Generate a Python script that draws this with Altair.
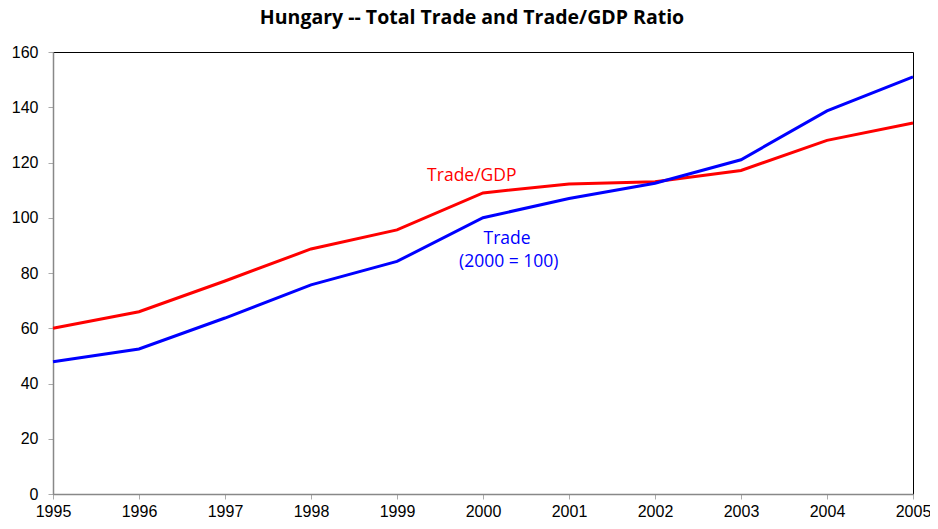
import altair as alt
import pandas as pd

years = [1995, 1996, 1997, 1998, 1999, 2000, 2001, 2002, 2003, 2004, 2005]
trade_gdp = [60.0, 66.0, 77.1, 88.7, 95.6, 109.0, 112.2, 113.0, 117.1, 128.0, 134.3]
trade = [47.9, 52.5, 63.7, 75.7, 84.2, 100.0, 107.0, 112.5, 121.0, 138.7, 151.0]

labels = ["Trade/GDP", "Trade", "(2000 = 100)"]
label_year = [1999.87, 2000.28, 2000.3]
label_value = [113.3, 90.5, 82.2]
label_color = ["#FF0000", "#0000FF", "#0000FF"]

series_names = ["Trade/GDP", "Trade"]
series_colors = ["#FF0000", "#0000FF"]

df = pd.DataFrame({
    "year": years * 2,
    "value": trade_gdp + trade,
    "series": ["Trade/GDP"] * len(years) + ["Trade"] * len(years),
})
lab = pd.DataFrame({"text": labels, "year": label_year, "value": label_value, "color": label_color})

x = alt.X("year:Q", scale=alt.Scale(domain=[1995, 2005], nice=False, zero=False),
          axis=alt.Axis(values=years, format="d", title=None, grid=False,
                        domainColor="#888888", domainWidth=1.5, tickColor="#aaaaaa",
                        tickSize=5, labelFont="Liberation Sans", labelFontSize=16,
                        labelColor="#000000", labelPadding=4, labelFlush=False))
y = alt.Y("value:Q", scale=alt.Scale(domain=[0, 160], nice=False),
          axis=alt.Axis(values=list(range(0, 161, 20)), title=None, grid=False,
                        domainColor="#888888", domainWidth=1.5, tickColor="#aaaaaa",
                        tickSize=5, labelFont="Liberation Sans", labelFontSize=16,
                        labelColor="#000000", labelPadding=10))

lines = alt.Chart(df).mark_line(strokeWidth=3).encode(
    x=x, y=y,
    color=alt.Color("series:N", scale=alt.Scale(domain=series_names, range=series_colors), legend=None),
)

texts = alt.Chart(lab).mark_text(font="Open Sans", fontSize=17.5, align="center", baseline="alphabetic").encode(
    x="year:Q", y="value:Q", text="text:N",
    color=alt.Color("color:N", scale=None),
)

chart = alt.layer(lines, texts).properties(
    width=860, height=442,
    autosize=alt.AutoSizeParams(type="none"),
    padding={"left": 45, "top": 44, "right": 17, "bottom": 27},
    title=alt.TitleParams("Hungary -- Total Trade and Trade/GDP Ratio", font="Open Sans",
                          fontSize=19.5, fontWeight="bold", color="#000000",
                          anchor="middle", offset=16, dx=-11),
).configure_view(stroke="#000000", strokeWidth=1)

chart.save("out.html", embed_options={"renderer": "svg", "actions": False})
